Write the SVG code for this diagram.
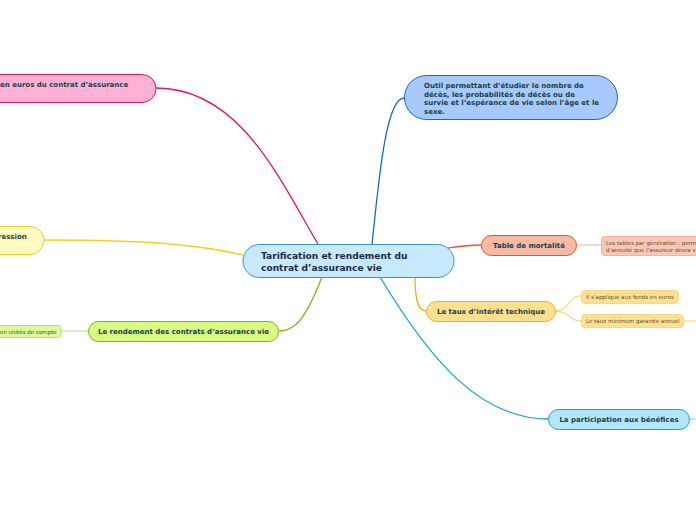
<svg xmlns="http://www.w3.org/2000/svg" width="696" height="520" viewBox="0 0 696 520">
<style>
text{font-family:"DejaVu Sans",Verdana,sans-serif;font-weight:bold;}
.main{font-size:9.1px;fill:#1b2b4d;}
.t1{font-size:7px;fill:#17404a;}
.sub{font-size:5.5px;font-weight:normal;fill:#5a4a3a;}
.c{fill:none;stroke-width:1.3;}
</style>
<rect width="696" height="520" fill="#ffffff"/>
<g id="connectors">
<path class="c" stroke="#e8106a" d="M156,88 C240,88 280,180 318,244"/>
<path class="c" stroke="#1a66cc" d="M372,244 C378,190 385,98 404,98"/>
<path class="c" stroke="#f0d21a" d="M44,240 C150,240 200,245 243,255"/>
<path class="c" stroke="#7ab51d" d="M322,277 C305,320 295,331 279,331"/>
<path class="c" stroke="#e8542a" d="M448,248 C462,246 468,245 481,245"/>
<path class="c" stroke="#f0b020" d="M415,277 C415,300 418,311 426,311"/>
<path class="c" stroke="#1aa0dc" d="M380,277 C430,360 480,419 548,419"/>
<path class="c" stroke="#c6e59a" stroke-width="1" d="M61,331 L88,331"/>
<path class="c" stroke="#f8c0ae" stroke-width="1" d="M576,245 L601,245"/>
<path class="c" stroke="#fbd88a" stroke-width="1" d="M555,311 C570,311 568,296 581,296"/>
<path class="c" stroke="#fbd88a" stroke-width="1" d="M555,311 C570,311 568,321 581,321"/>
<path class="c" stroke="#fbd88a" stroke-width="1" d="M683,321 L696,321"/>
<path class="c" stroke="#8fd4f0" stroke-width="1" d="M689,419 L696,419"/>
</g>
<g id="center">
<rect x="243" y="244.5" width="211" height="33" rx="16.5" fill="#c6eafb" stroke="#3a92cc" stroke-width="1"/>
<text class="main" x="261" y="259">Tarification et rendement du</text>
<text class="main" x="261" y="270.5">contrat d’assurance vie</text>
</g>
<g id="n-euros">
<rect x="-20" y="74.5" width="176" height="28" rx="14" fill="#feb1d3" stroke="#e8106a" stroke-width="1"/>
<text class="t1" x="0" y="87">en euros du contrat d’assurance</text>
</g>
<g id="n-outil">
<rect x="404.5" y="75.5" width="213" height="44" rx="22" fill="#a8c9fb" stroke="#1a66cc" stroke-width="1"/>
<text class="t1" x="424" y="88">Outil permettant d’étudier le nombre de</text>
<text class="t1" x="424" y="96.5">décès, les probabilités de décès ou de</text>
<text class="t1" x="424" y="105">survie et l’espérance de vie selon l’âge et le</text>
<text class="t1" x="424" y="113.5">sexe.</text>
</g>
<g id="n-ression">
<rect x="-20" y="226.5" width="64" height="28" rx="14" fill="#fffac2" stroke="#f0d21a" stroke-width="1"/>
<text class="t1" x="-2" y="239">ression</text>
</g>
<g id="n-rendement">
<rect x="88.5" y="321.5" width="190" height="20" rx="10" fill="#d6fb80" stroke="#7ab51d" stroke-width="1"/>
<text class="t1" x="183.5" y="334" text-anchor="middle">Le rendement des contrats d’assurance vie</text>
</g>
<g id="n-uc">
<rect x="-10" y="325.5" width="71" height="12" rx="3" fill="#dcfb9a" stroke="#a8d860" stroke-width="0.8"/>
<text class="sub" x="0" y="333.5" style="fill:#3a4a20">en unités de compte</text>
</g>
<g id="n-table">
<rect x="481.5" y="235.5" width="95" height="20" rx="10" fill="#f9b9a4" stroke="#e8542a" stroke-width="1"/>
<text class="t1" x="529" y="248" text-anchor="middle">Table de mortalité</text>
</g>
<g id="n-tables-gen">
<rect x="601.5" y="236.5" width="110" height="19" rx="3" fill="#fbc7b5" stroke="#f3a48c" stroke-width="0.8"/>
<text class="sub" x="606" y="244.5">Les tables par génération : perm</text>
<text class="sub" x="606" y="251.5">d’annuité que l’assureur devra v</text>
</g>
<g id="n-taux">
<rect x="426.5" y="301.5" width="129" height="20" rx="10" fill="#ffe08f" stroke="#f0b020" stroke-width="1"/>
<text class="t1" x="491" y="314" text-anchor="middle">Le taux d’intérêt technique</text>
</g>
<g id="n-fonds">
<rect x="581.5" y="290.5" width="97" height="13" rx="3" fill="#ffe08f" stroke="#fbd070" stroke-width="0.8"/>
<text class="sub" x="586" y="299">Il s’applique aux fonds en euros</text>
</g>
<g id="n-minimum">
<rect x="581.5" y="314.5" width="102" height="13" rx="3" fill="#ffe08f" stroke="#fbd070" stroke-width="0.8"/>
<text class="sub" x="586" y="323">Le taux minimum garantie annuel</text>
</g>
<g id="n-participation">
<rect x="548.5" y="409.5" width="141" height="20" rx="10" fill="#b1e6fb" stroke="#1aa0dc" stroke-width="1"/>
<text class="t1" x="619" y="422" text-anchor="middle">La participation aux bénéfices</text>
</g>
</svg>
